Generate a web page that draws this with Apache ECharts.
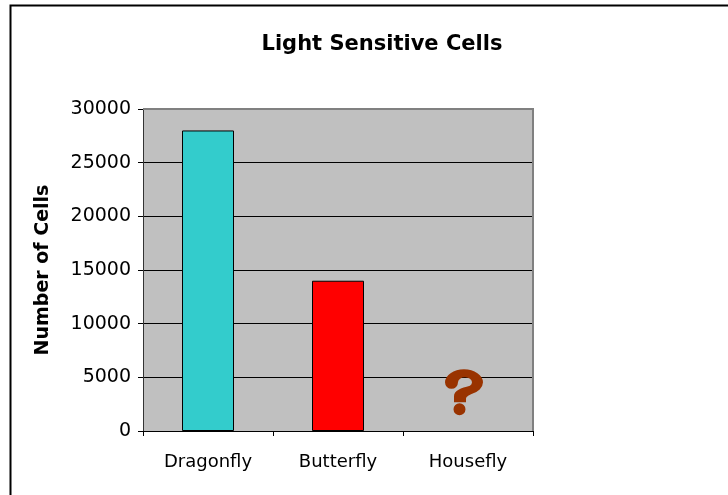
<!DOCTYPE html>
<html><head><meta charset="utf-8">
<script src="https://cdn.jsdelivr.net/npm/echarts@6/dist/echarts.min.js"></script>
<style>html,body{margin:0;padding:0;background:#fff}#c{width:728px;height:495px}</style>
</head><body><div id="c"></div>
<script>
const categories = ['Dragonfly', 'Butterfly', 'Housefly'];
const cellCounts = [28000, 14000, null];
const barColors = ['#33CCCC', '#FF0000', '#C0C0C0'];
const unknownMarks = [['Housefly', 3600]];
const yTicks = [0, 5000, 10000, 15000, 20000, 25000, 30000];

const questionPath = 'path://M0 13 A19 13 0 0 1 38 13 A19 13 0 0 1 26 25 C22 27 21 28 21 30 L21 33 L9 33 L9 27 C9 21 16 19 24.9 16.5 A7 5 0 1 0 13 13 A6.5 6.5 0 0 1 0 13 Z M20.5 40 A6 6 0 1 1 8.5 40 A6 6 0 1 1 20.5 40 Z';

const chart = echarts.init(document.getElementById('c'), null, {renderer: 'canvas'});
const font = '"DejaVu Sans", sans-serif';
chart.setOption({
  animation: false,
  backgroundColor: '#fff',
  graphic: [
    {type: 'rect', shape: {x: 10.5, y: 5.5, width: 800, height: 600}, style: {fill: 'none', stroke: '#000', lineWidth: 2}, z: 100},
    {type: 'polyline', shape: {points: [[143, 109], [533, 109], [533, 431]]}, style: {fill: 'none', stroke: '#808080', lineWidth: 2}, z: 100}
  ],
  title: {
    text: 'Light Sensitive Cells', left: 377, top: 29, textAlign: 'center',
    textStyle: {fontFamily: font, fontWeight: 'bold', fontSize: 21, color: '#000'}
  },
  grid: {left: 143, top: 109, right: 195, bottom: 64, show: true, backgroundColor: '#C0C0C0', borderWidth: 0},
  xAxis: {
    type: 'category', data: categories,
    axisLine: {lineStyle: {color: '#000', width: 1}},
    axisTick: {show: true, length: 5, lineStyle: {color: '#000'}},
    axisLabel: {fontFamily: font, fontSize: 18, color: '#000', margin: 22}
  },
  yAxis: {
    type: 'value', min: 0, max: 30000, interval: 5000,
    name: 'Number of Cells', nameLocation: 'middle', nameGap: 90,
    nameTextStyle: {fontFamily: font, fontWeight: 'bold', fontSize: 19, color: '#000'},
    axisLine: {show: true, lineStyle: {color: '#333'}},
    axisTick: {show: true, length: 5, lineStyle: {color: '#000'}},
    axisLabel: {fontFamily: font, fontSize: 19, color: '#000', margin: 12,
      formatter: v => yTicks.includes(v) ? String(v) : ''},
    splitLine: {show: true, lineStyle: {color: '#000', width: 1}}
  },
  series: [
    {
      type: 'bar', barWidth: '40%',
      data: cellCounts.map((v, i) => ({value: v, itemStyle: {color: barColors[i], borderColor: '#000', borderWidth: 1}})),
      z: 3
    },
    {
      type: 'scatter', data: unknownMarks, symbol: questionPath, symbolSize: [38, 46],
      symbolOffset: [-4, 0], itemStyle: {color: '#993300', opacity: 1},
      z: 4
    }
  ]
});
</script></body></html>
